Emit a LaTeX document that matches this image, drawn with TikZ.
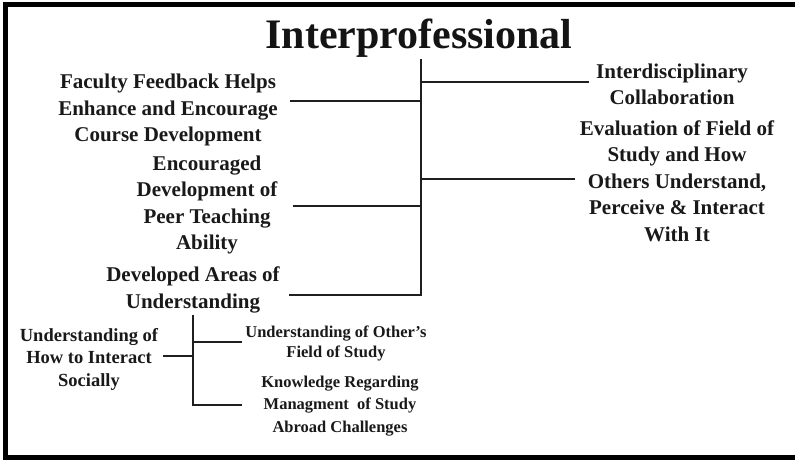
\documentclass[tikz,border=0pt]{standalone}
\usepackage{fontspec}
\setmainfont{Liberation Serif}
\begin{document}
\begin{tikzpicture}[x=1pt,y=-1pt,
  lbl/.style={font=\bfseries\fontsize{21}{26.5}\selectfont, align=center, inner sep=0pt, text=black!90},
  lblleft/.style={font=\bfseries\fontsize{18.5}{22.5}\selectfont, align=center, inner sep=0pt, text=black!90},
  lblright/.style={font=\bfseries\fontsize{16.5}{22.5}\selectfont, align=center, inner sep=0pt, text=black!90},
  titlestyle/.style={font=\bfseries\fontsize{42}{48}\selectfont, inner sep=0pt, text=black!92},
  conn/.style={line width=2pt, draw=black!88},
  framestyle/.style={line width=5pt, draw=black}]
\useasboundingbox (0,0) rectangle (795,460);
% frame (open on the right, cut by the picture edge)
\draw[framestyle] (800,4.5) -- (5.5,4.5) -- (5.5,457.5) -- (800,457.5);

% title
\node[titlestyle] (title) at (419,38) {Interprofessional};

% upper level texts
\node[lbl] (faculty) at (168,110) {Faculty Feedback Helps\\Enhance and Encourage\\Course Development};
\node[lbl] (peer) at (207,205) {Encouraged\\Development of\\Peer Teaching\\Ability};
\node[lbl] (areas) at (193,290) {Developed Areas of\\Understanding};
\node[lbl] (inter) at (672,84.5) {Interdisciplinary\\Collaboration};
\node[lbl] (eval) at (677,181) {Evaluation of Field of\\Study and How\\Others Understand,\\Perceive \& Interact\\With It};

% lower level texts
\node[lblleft] (social) at (89,359) {Understanding of\\How to Interact\\Socially};
\node[lblright, font=\bfseries\fontsize{16.5}{20}\selectfont] (others) at (336,343.5) {Understanding of Other's\\Field of Study};
\node[lblright] (abroad) at (340,406) {Knowledge Regarding\\Managment~ of Study\\Abroad Challenges};

% main spine
\coordinate (spinetop) at (421,59);
\coordinate (spinebot) at (421,295);
\coordinate (jinter) at (421,82);
\coordinate (jfac) at (421,101);
\coordinate (jeval) at (421,179);
\coordinate (jpeer) at (421,206);
\coordinate (einter) at (589,82);
\coordinate (efac) at (290,101);
\coordinate (eeval) at (575,179);
\coordinate (epeer) at (293,206);
\coordinate (eareas) at (289,295);
\draw[conn] (spinetop) -- (spinebot) -- (eareas);
\draw[conn] (jinter) -- (einter);
\draw[conn] (jfac) -- (efac);
\draw[conn] (jeval) -- (eeval);
\draw[conn] (jpeer) -- (epeer);

% lower spine
\coordinate (ltop) at (193,315);
\coordinate (lbot) at (193,405);
\coordinate (lsoc) at (193,356);
\coordinate (loth) at (193,342);
\coordinate (esoc) at (163,356);
\coordinate (eoth) at (242,342);
\coordinate (eabr) at (242,405);
\draw[conn] (ltop) -- (lbot) -- (eabr);
\draw[conn] (lsoc) -- (esoc);
\draw[conn] (loth) -- (eoth);
\end{tikzpicture}
\end{document}
